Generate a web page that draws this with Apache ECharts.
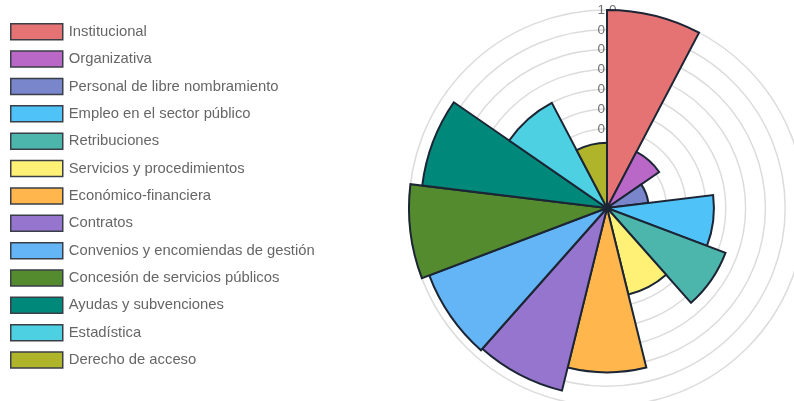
<!DOCTYPE html>
<html>
<head>
<meta charset="utf-8">
<script src="https://cdn.jsdelivr.net/npm/echarts@6/dist/echarts.min.js"></script>
<style>
  html, body { margin: 0; padding: 0; background: #fff; }
  #chart { width: 794px; height: 401px; }
</style>
</head>
<body>
<div id="chart"></div>
<script>
const CATEGORIES = [
  'Institucional',
  'Organizativa',
  'Personal de libre nombramiento',
  'Empleo en el sector público',
  'Retribuciones',
  'Servicios y procedimientos',
  'Económico-financiera',
  'Contratos',
  'Convenios y encomiendas de gestión',
  'Concesión de servicios públicos',
  'Ayudas y subvenciones',
  'Estadística',
  'Derecho de acceso'
];
const VALUES = [1.0, 0.32, 0.21, 0.54, 0.64, 0.45, 0.83, 0.95, 0.96, 1.0, 0.94, 0.6, 0.33];
const COLORS = [
  '#e57373', '#ba68c8', '#7986cb', '#4fc3f7', '#4db6ac', '#fff176', '#ffb74d',
  '#9575cd', '#64b5f6', '#558b2f', '#00897b', '#4dd0e1', '#afb42b'
];
const TICK_MAX = 1;
const TICK_STEP = 0.1;

const BORDER = '#1c2534';

const chart = echarts.init(document.getElementById('chart'));

chart.setOption({
  animation: false,
  legend: {
    orient: 'vertical',
    left: 10,
    top: 23,
    padding: 0,
    icon: 'rect',
    itemWidth: 52,
    itemHeight: 16,
    itemGap: 9.86,
    itemStyle: { borderWidth: 1.5, borderColor: '#3a3f47' },
    textStyle: {
      fontFamily: 'Liberation Sans, Arial, sans-serif',
      fontSize: 14.8,
      lineHeight: 16,
      color: '#666',
      padding: [0, 0, 0, 1]
    },
    data: CATEGORIES
  },
  polar: { center: [607, 208], radius: 198 },
  angleAxis: {
    type: 'category',
    data: CATEGORIES,
    startAngle: 90,
    clockwise: true,
    axisLine: { show: false },
    axisTick: { show: false },
    axisLabel: { show: false },
    splitLine: { show: false }
  },
  radiusAxis: {
    type: 'value',
    min: 0,
    max: TICK_MAX,
    interval: TICK_STEP,
    axisLine: { show: false },
    axisTick: { show: false },
    splitLine: { show: true, lineStyle: { color: '#dcdcdc', width: 1.5 } },
    axisLabel: {
      margin: 0,
      align: 'center',
      verticalAlign: 'middle',
      fontFamily: 'Liberation Sans, Arial, sans-serif',
      fontSize: 13.5,
      color: '#707070',
      formatter: v => (v === 0 ? '' : v.toFixed(1))
    }
  },
  series: CATEGORIES.map((name, i) => ({
    type: 'bar',
    coordinateSystem: 'polar',
    name,
    stack: 'all',
    barCategoryGap: '0%',
    data: CATEGORIES.map((_, j) => (j === i ? VALUES[i] : '-')),
    itemStyle: { color: COLORS[i], borderColor: BORDER, borderWidth: 2 }
  }))
});
</script>
</body>
</html>
